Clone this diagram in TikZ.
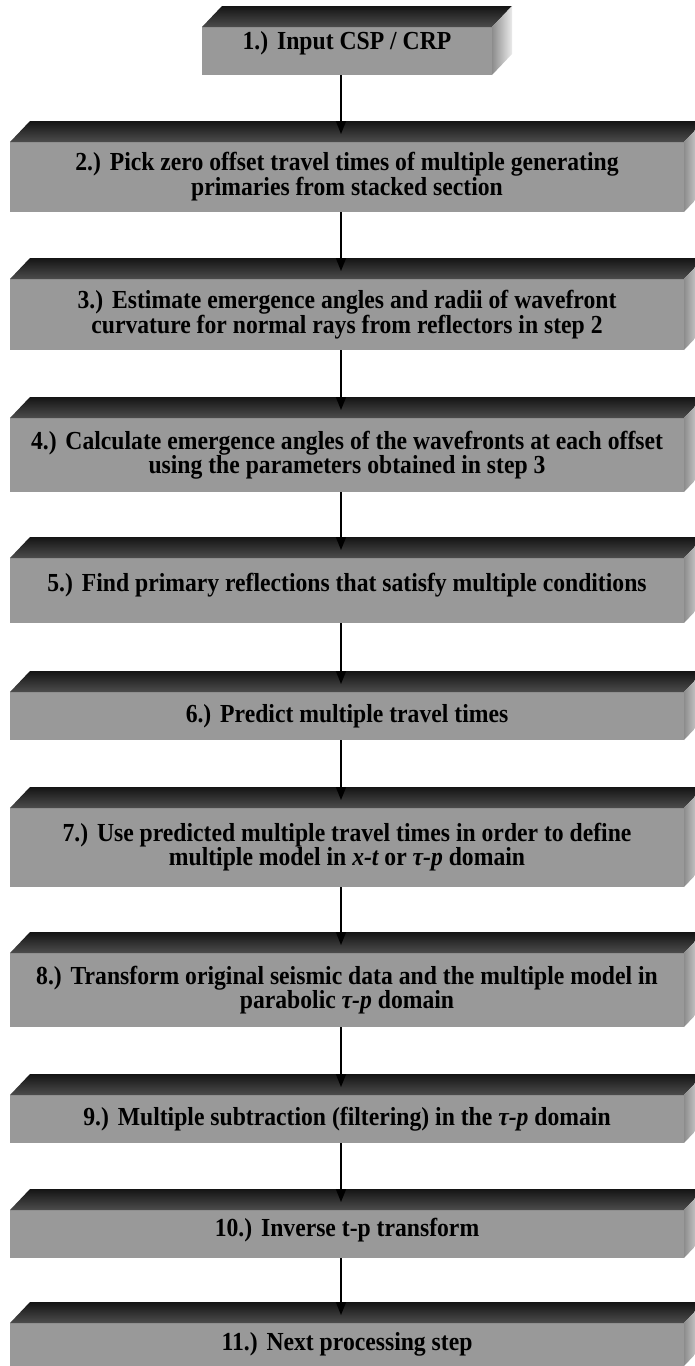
\documentclass[tikz,border=0pt]{standalone}
\usepackage{fontspec}
\setmainfont{Liberation Serif}[FakeStretch=0.91, PunctuationSpace=1.5]
\usepackage{tikz}
\usetikzlibrary{arrows.meta}

\tikzset{
    stepbox/.style={rectangle, fill=black!40, inner sep=0pt, outer sep=0pt,
        minimum width=674pt, align=center,
        font=\fontsize{26}{24}\selectfont\bfseries},
    topface/.style={top color=black!92, bottom color=black!70},
    sideface/.style={left color=black!45, right color=black!8},
    flow/.style={line width=1.6pt, -{Triangle[length=13pt,width=10pt]}}
}

\begin{document}
\begin{tikzpicture}[x=1pt, y=-1pt]
    \useasboundingbox (0,0) rectangle (694,1366);
    % Steps
    \node[stepbox, minimum width=290pt, minimum height=48pt, text depth=22pt] (input) at (347,51) {1.) Input CSP / CRP};
    \node[stepbox, minimum height=70pt] (pick) at (347,177) {2.) Pick zero offset travel times of multiple generating\\ primaries from stacked section};
    \node[stepbox, minimum height=71pt] (emerge) at (347,314.5) {3.) Estimate emergence angles and radii of wavefront\\ curvature for normal rays from reflectors in step 2};
    \node[stepbox, minimum height=74pt] (angles) at (347,455) {4.) Calculate emergence angles of the wavefronts at each offset\\ using the parameters obtained in step 3};
    \node[stepbox, minimum height=65pt, text depth=16pt] (find) at (347,590.5) {5.) Find primary reflections that satisfy multiple conditions};
    \node[stepbox, minimum height=48pt] (predict) at (347,716) {6.) Predict multiple travel times};
    \node[stepbox, minimum height=79pt] (model) at (347,847.5) {7.) Use predicted multiple travel times in order to define\\ multiple model in {\itshape x-t} or {\itshape τ-p} domain};
    \node[stepbox, minimum height=74pt] (transform) at (347,990) {8.) Transform original seismic data and the multiple model in\\ parabolic {\itshape τ-p} domain};
    \node[stepbox, minimum height=48pt] (subtract) at (347,1119) {9.) Multiple subtraction (filtering) in the {\itshape τ-p} domain};
    \node[stepbox, minimum height=48pt, text depth=14pt] (inverse) at (347,1234) {10.) Inverse t-p transform};
    \node[stepbox, minimum height=43pt] (next) at (347,1344.5) {11.) Next processing step};
    % Top and side faces
    \foreach \n in {input,pick,emerge,angles,find,predict,model,transform,subtract,inverse,next} {
        \shade[topface] (\n.north west) -- ++(20,-21) -- ([xshift=20pt,yshift=21pt]\n.north east) -- (\n.north east) -- cycle;
        \shade[sideface] (\n.north east) -- ++(20,-21) -- ([xshift=20pt,yshift=21pt]\n.south east) -- (\n.south east) -- cycle;
    }
    % Arrows
    \foreach \a/\b in {input/pick,pick/emerge,emerge/angles,angles/find,find/predict,predict/model,model/transform,transform/subtract,subtract/inverse,inverse/next}
        \draw[flow] ([xshift=-6pt]\a.south) -- ([xshift=-6pt,yshift=8pt]\b.north);
\end{tikzpicture}
\end{document}
